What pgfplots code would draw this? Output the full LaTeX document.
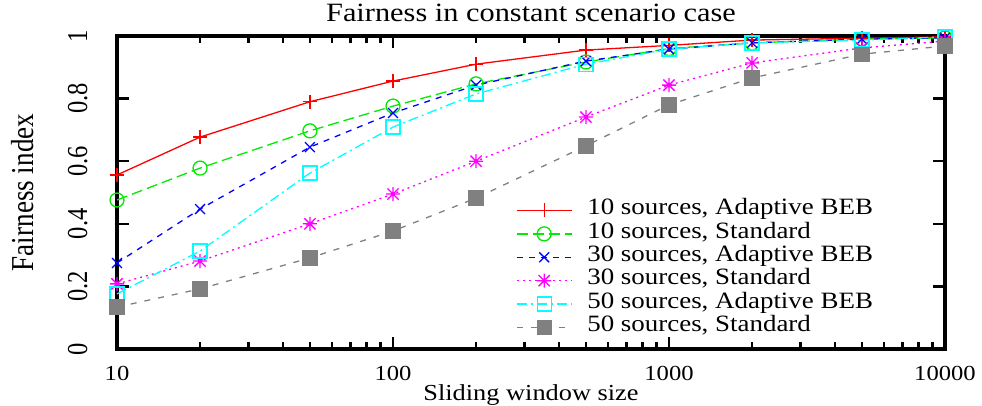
\documentclass[border=0pt]{standalone}
\usepackage{fontspec}
\setmainfont{Liberation Serif}[FakeStretch=1.15]
\newfontfamily\narrowserif{Liberation Serif}[FakeStretch=0.85]
\usepackage{pgfplots}
\pgfplotsset{compat=1.18}

\definecolor{gpred}{RGB}{255,0,0}
\definecolor{gpgreen}{RGB}{0,235,0}
\definecolor{gpblue}{RGB}{0,0,255}
\definecolor{gpmagenta}{RGB}{255,0,255}
\definecolor{gpcyan}{RGB}{0,255,255}
\definecolor{gpgray}{RGB}{128,128,128}

% gnuplot style asterisk: plus and cross together
\pgfdeclareplotmark{gpstar}{%
  \pgfpathmoveto{\pgfqpoint{-\pgfplotmarksize}{0pt}}%
  \pgfpathlineto{\pgfqpoint{\pgfplotmarksize}{0pt}}%
  \pgfpathmoveto{\pgfqpoint{0pt}{-\pgfplotmarksize}}%
  \pgfpathlineto{\pgfqpoint{0pt}{\pgfplotmarksize}}%
  \pgfpathmoveto{\pgfqpoint{-.8\pgfplotmarksize}{-.8\pgfplotmarksize}}%
  \pgfpathlineto{\pgfqpoint{.8\pgfplotmarksize}{.8\pgfplotmarksize}}%
  \pgfpathmoveto{\pgfqpoint{-.8\pgfplotmarksize}{.8\pgfplotmarksize}}%
  \pgfpathlineto{\pgfqpoint{.8\pgfplotmarksize}{-.8\pgfplotmarksize}}%
  \pgfusepathqstroke}

\begin{document}
\begin{tikzpicture}
\useasboundingbox (-117bp,-57bp) rectangle (865bp,349bp);
\begin{axis}[
    at={(0,0)}, anchor=south west,
    scale only axis, width=828bp, height=313bp,
    xmode=log, xmin=10, xmax=10000, ymin=0, ymax=1,
    xtick={10,100,1000,10000}, xticklabels={10,100,1000,10000},
    ytick={0,0.2,0.4,0.6,0.8,1}, yticklabels={0,0.2,0.4,0.6,0.8,1},
    tick align=inside,
    major tick length=12bp, minor tick length=7bp,
    every tick/.append style={black, line width=2.5bp},
    every minor tick/.append style={black, line width=2.5bp},
    axis line style={line width=4bp},
    /pgf/number format/assume math mode=true,
    xticklabel style={font=\fontsize{21.5}{24}\selectfont, anchor=base},
    xticklabel shift=31bp,
    yticklabel style={font=\narrowserif\fontsize{29}{30}\selectfont, rotate=90, anchor=base},
    yticklabel shift=30bp,
    title={Fairness in constant scenario case},
    title style={font=\fontsize{26.5}{30}\selectfont, at={(axis description cs:0.5,1)}, anchor=base, yshift=9bp},
    xlabel={Sliding window size},
    xlabel style={font=\fontsize{23}{26}\selectfont, at={(axis description cs:0.5,0)}, anchor=base, yshift=-51bp},
    ylabel={Fairness index},
    ylabel style={font=\narrowserif\fontsize{32}{34}\selectfont, at={(axis description cs:-0.1014,0.5)}, anchor=base},
    clip=false,
    every axis plot/.append style={line width=1.3bp},
    legend style={draw=none, fill=none, at={(axis description cs:0.4819,0.4800)}, anchor=north west,
        inner sep=0pt, outer sep=0pt, row sep=0pt, column sep=15bp,
        nodes={inner sep=0pt, text height=16bp, text depth=7.4bp, font=\fontsize{23.5}{25}\selectfont}},
    legend cell align=left,
    legend image code/.code={\draw[mark repeat=2,mark phase=2] plot coordinates {(0bp,0bp) (27.5bp,0bp) (55bp,0bp)};},
]
\addplot[gpred, solid, mark=+, mark size=7bp, mark options={solid}] coordinates {
  (10,0.556) (20,0.677) (50,0.790) (100,0.856) (200,0.910) (500,0.955) (1000,0.970) (2000,0.987) (5000,0.993) (10000,0.997)};
\addlegendentry{10 sources, Adaptive BEB}
\addplot[gpgreen, dash pattern=on 11bp off 5bp, mark=o, mark size=7bp, mark options={solid}] coordinates {
  (10,0.476) (20,0.578) (50,0.697) (100,0.776) (200,0.847) (500,0.917) (1000,0.960) (2000,0.978) (5000,0.990) (10000,0.994)};
\addlegendentry{10 sources, Standard}
\addplot[gpblue, dash pattern=on 6bp off 6bp, mark=x, mark size=7bp, mark options={solid}] coordinates {
  (10,0.275) (20,0.447) (50,0.645) (100,0.754) (200,0.843) (500,0.920) (1000,0.958) (2000,0.978) (5000,0.990) (10000,0.994)};
\addlegendentry{30 sources, Adaptive BEB}
\addplot[gpmagenta, dash pattern=on 2bp off 4bp, mark=gpstar, mark size=7bp, mark options={solid}] coordinates {
  (10,0.208) (20,0.281) (50,0.400) (100,0.495) (200,0.600) (500,0.741) (1000,0.843) (2000,0.914) (5000,0.962) (10000,0.984)};
\addlegendentry{30 sources, Standard}
\addplot[gpcyan, dash pattern=on 10bp off 4bp on 2bp off 4bp, mark=square, mark size=7bp, mark options={solid}] coordinates {
  (10,0.176) (20,0.313) (50,0.562) (100,0.709) (200,0.815) (500,0.910) (1000,0.958) (2000,0.978) (5000,0.987) (10000,0.997)};
\addlegendentry{50 sources, Adaptive BEB}
\addplot[gpgray, dash pattern=on 6bp off 8bp, mark=square*, mark size=7bp, mark options={solid, fill=gpgray}] coordinates {
  (10,0.134) (20,0.192) (50,0.291) (100,0.377) (200,0.482) (500,0.649) (1000,0.780) (2000,0.866) (5000,0.942) (10000,0.968)};
\addlegendentry{50 sources, Standard}
\end{axis}
\end{tikzpicture}
\end{document}
